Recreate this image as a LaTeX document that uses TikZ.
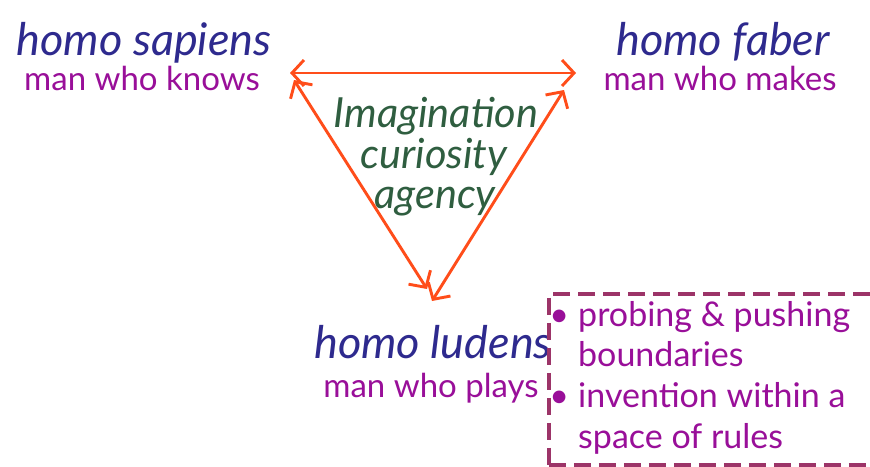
\documentclass[tikz,border=0pt]{standalone}
\usepackage{fontspec}
\setmainfont{Lato}
\usetikzlibrary{arrows.meta}
\definecolor{homoblue}{HTML}{2E2A8E}
\definecolor{manpurple}{HTML}{990F99}
\definecolor{ideagreen}{HTML}{2F5E40}
\definecolor{linkorange}{HTML}{FF4D1A}
\definecolor{boxplum}{HTML}{9C3468}
\begin{document}
\begin{tikzpicture}[x=1pt,y=-1pt,
  homo/.style={font=\fontsize{45}{48}\selectfont\itshape,text=homoblue,inner sep=0pt,anchor=base},
  who/.style={font=\fontsize{33}{36}\selectfont,text=manpurple,inner sep=0pt,anchor=base},
  idea/.style={font=\fontsize{41.5}{44}\selectfont\itshape,text=ideagreen,inner sep=0pt,anchor=base},
  link/.style={linkorange,line width=2.9pt,line cap=round,{Straight Barb[length=12pt,width=26pt]}-{Straight Barb[length=12pt,width=26pt]}},
  rulesbox/.style={draw=boxplum,line width=3.6pt,dash pattern=on 17pt off 8pt,minimum width=400pt,minimum height=171pt,anchor=north west,inner sep=0pt}]
\clip (0,0) rectangle (870,466);
\fill[white] (0,0) rectangle (870,466);
% the three kinds of man
\node[homo] (sapiens) at (144,55) {homo sapiens};\node[who] (knows) at (142,90) {man who knows};
\node[homo] (faber) at (723,55) {homo faber};\node[who] (makes) at (720,90) {man who makes};
\node[homo] (ludens) at (433,358) {homo ludens};\node[who] (plays) at (431,397) {man who plays};
% what they share
\node[idea] (imag) at (436,127) {Imagination};\node[idea] (curio) at (434,168) {curiosity};\node[idea] (agency) at (435,208) {agency};
\coordinate (sapiens-e) at (290,73);\coordinate (faber-w) at (576,73);
\coordinate (sapiens-se) at (294,80);\coordinate (ludens-nw) at (427,289);
\coordinate (faber-sw) at (564,90);\coordinate (ludens-ne) at (432,301);
\draw[link] (sapiens-e)--(faber-w);\draw[link] (sapiens-se)--(ludens-nw);\draw[link] (faber-sw)--(ludens-ne);
% play within rules
\node[rulesbox] (box) at (547,292) {};
\node[anchor=north west,align=left,inner sep=0pt,text=manpurple,font=\fontsize{34}{40.7}\selectfont] (rules) at (578,301)
 {\llap{\textbullet\hspace{9pt}}probing \& pushing\\boundaries\\\llap{\textbullet\hspace{9pt}}invention within a\\space of rules};
\end{tikzpicture}
\end{document}
